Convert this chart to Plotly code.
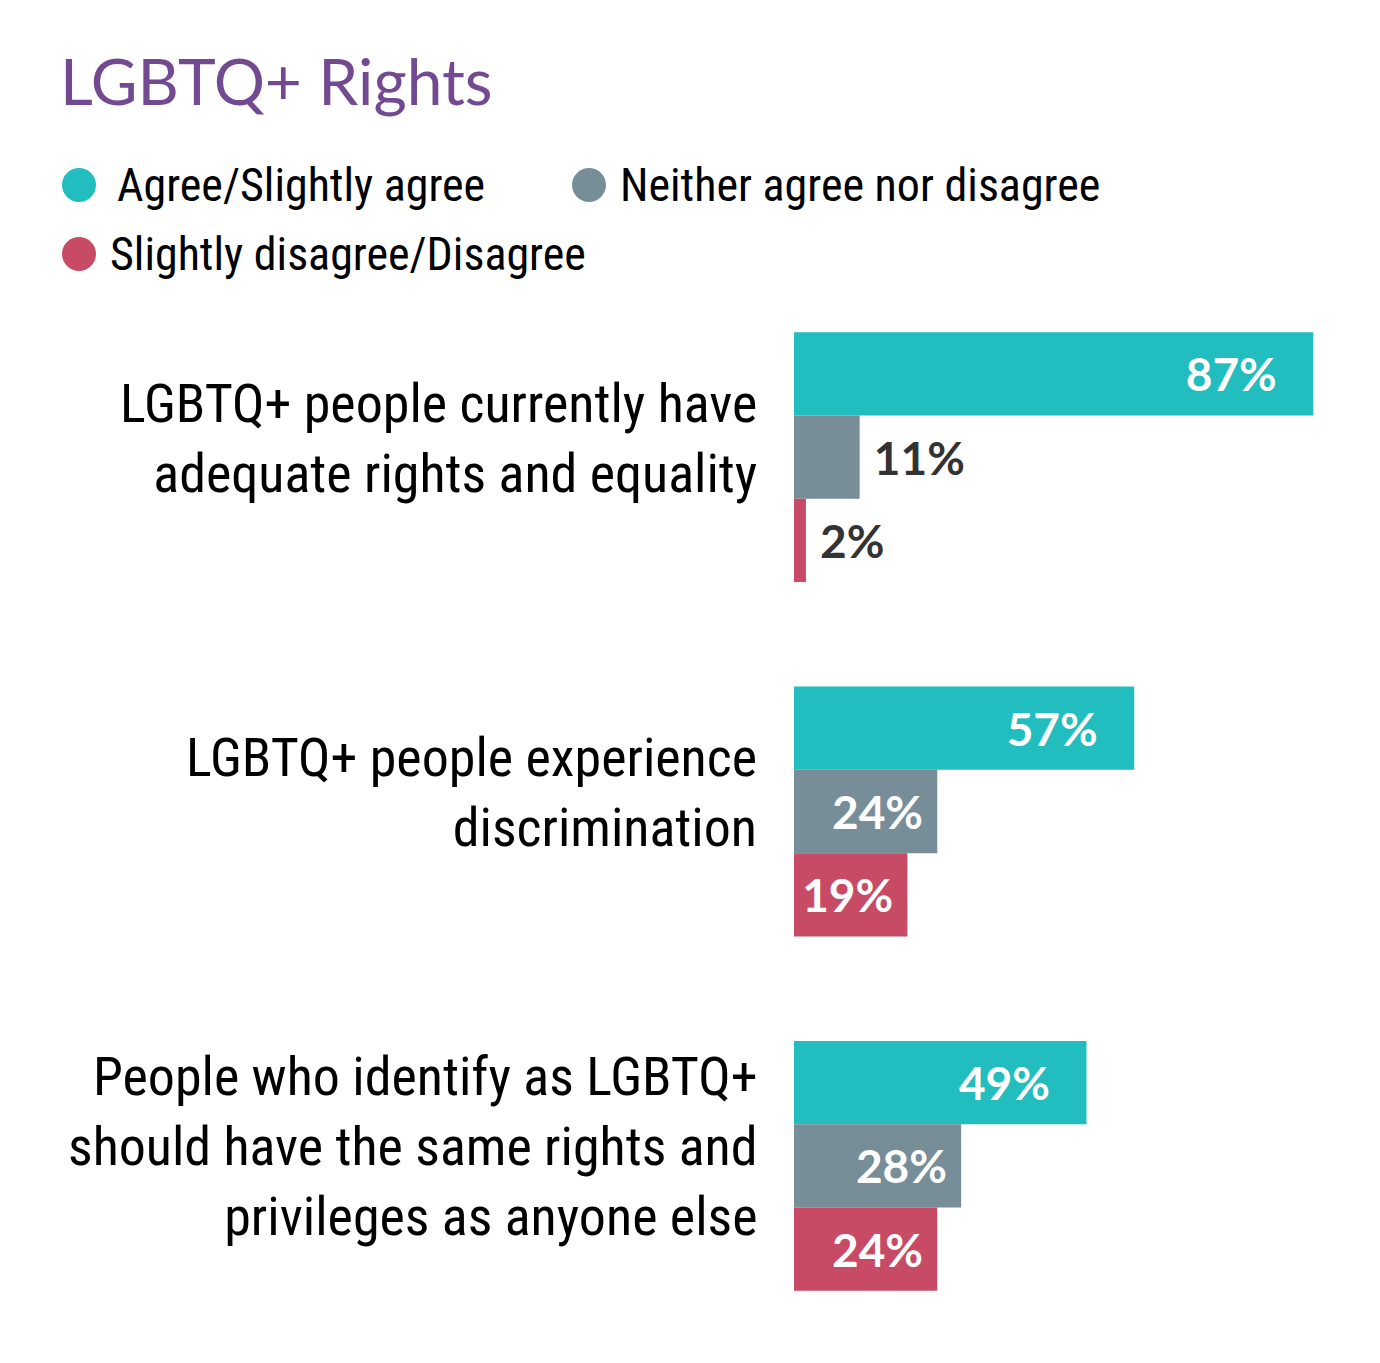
import plotly.graph_objects as go

# ── Dados ────────────────────────────────────────────────────────────────
statements = [
    "LGBTQ+ people currently have<br>adequate rights and equality",
    "LGBTQ+ people experience<br>discrimination",
    "People who identify as LGBTQ+<br>should have the same rights and<br>privileges as anyone else",
]
series_names = ["Agree/Slightly agree", "Neither agree nor disagree", "Slightly disagree/Disagree"]
agree = [87, 57, 49]
neither = [11, 24, 28]
disagree = [2, 19, 24]

# ── Cores / fontes ───────────────────────────────────────────────────────
TEAL = "#22BDBE"
GRAY = "#778E99"
RED = "#C84B66"
PURPLE = "#734A91"
DARK = "#333333"
COND = "Roboto Condensed, Roboto, sans-serif"
NUM = "Lato, Arial, sans-serif"
NBSP = "\u00a0"

W, H = 1380, 1363
L, R, T, B = 794, 7, 280, 20
PW, PH = W - L - R, H - T - B


def px(x):
    return (x - L) / PW


def py(y):
    return (H - B - y) / PH


fig = go.Figure()

# pad = nº de espaços à direita dos rótulos internos
for name, vals, color, pad in zip(series_names, [agree, neither, disagree],
                                  [TEAL, GRAY, RED], [3, 1, 1]):
    pos = ["outside" if v < 15 else "inside" for v in vals]
    labels = [NBSP + f"{v}%" if p == "outside" else f"{v}%" + NBSP * pad
              for v, p in zip(vals, pos)]
    fig.add_trace(go.Bar(
        name=name,
        y=statements,
        x=vals,
        orientation="h",
        marker=dict(color=color, line=dict(width=0)),
        text=labels,
        textposition=pos,
        insidetextanchor="end",
        insidetextfont=dict(color="white", size=46, family=NUM, weight=700),
        outsidetextfont=dict(color=DARK, size=46, family=NUM, weight=700),
        cliponaxis=False,
        showlegend=False,
        hovertemplate="%{y}<br>" + name + ": %{x}%<extra></extra>",
    ))

# ── Rótulos das afirmações ───────────────────────────────────────────────
for s in statements:
    fig.add_annotation(
        x=0, xref="paper", y=s, yref="y",
        text=s, showarrow=False,
        xanchor="right", align="right",
        xshift=-35, yshift=19,
        font=dict(family=COND, size=54, color="black"),
    )

# ── Legenda manual (círculos grandes) ────────────────────────────────────
legend_items = [
    (series_names[0], TEAL, 79, 185, 115),
    (series_names[1], GRAY, 589, 185, 618),
    (series_names[2], RED, 79, 254, 108),
]
r = 17
for name, color, cx, cy, tx in legend_items:
    fig.add_shape(
        type="circle", xref="paper", yref="paper",
        x0=px(cx - r), x1=px(cx + r),
        y0=py(cy + r), y1=py(cy - r),
        fillcolor=color, line=dict(width=0), layer="above",
    )
    fig.add_annotation(
        x=px(tx), xref="paper", y=py(cy), yref="paper",
        text=name, showarrow=False, xanchor="left", yanchor="middle",
        font=dict(family=COND, size=46, color="black"),
    )

fig.add_annotation(
    x=px(58), xref="paper", y=py(80), yref="paper",
    text="LGBTQ+ Rights", showarrow=False, xanchor="left", yanchor="middle",
    font=dict(family=NUM, size=64, color=PURPLE),
)

fig.update_layout(
    width=W, height=H,
    barmode="group",
    bargap=0.295,
    bargroupgap=0,
    plot_bgcolor="white",
    paper_bgcolor="white",
    margin=dict(l=L, r=R, t=T, b=B),
    xaxis=dict(range=[0, 97], visible=False, fixedrange=True),
    yaxis=dict(autorange="reversed", showticklabels=False, showgrid=False,
               zeroline=False, showline=False, ticks="", fixedrange=True),
    uniformtext=dict(minsize=46, mode="show"),
)

fig.write_html("out.html", config={"displayModeBar": False},
               post_script="document.body.style.margin='0';")
